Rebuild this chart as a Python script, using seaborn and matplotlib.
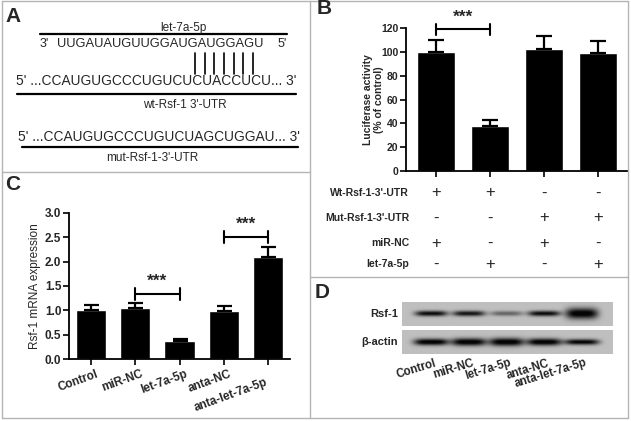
import numpy as np
import pandas as pd
import matplotlib
matplotlib.use("Agg")
import matplotlib.pyplot as plt
import seaborn as sns
from matplotlib.lines import Line2D
from matplotlib.transforms import blended_transform_factory, ScaledTranslation

sns.set_theme(style="ticks")
plt.rcParams['font.family'] = ['Liberation Sans', 'DejaVu Sans']

# ---------------- data ----------------
mirna_name = "let-7a-5p"
mirna_seq = "UUGAUAUGUUGGAUGAUGGAGU"
wt_seq = "5' ...CCAUGUGCCCUGUCUCUACCUCU... 3'"
mut_seq = "5' ...CCAUGUGCCCUGUCUAGCUGGAU... 3'"
wt_name = "wt-Rsf-1 3'-UTR"
mut_name = "mut-Rsf-1-3'-UTR"
n_pairs = 7

b_groups = ["g1", "g2", "g3", "g4"]
b_values = [100, 38, 102, 99]
b_err = [10, 5, 11, 10]
b_ticks = [0, 20, 40, 60, 80, 100, 120]
b_rows = ["Wt-Rsf-1-3'-UTR", "Mut-Rsf-1-3'-UTR", "miR-NC", "let-7a-5p"]
b_signs = [["+", "+", "-", "-"],
           ["-", "-", "+", "+"],
           ["+", "-", "+", "-"],
           ["-", "+", "-", "+"]]

c_groups = ["Control", "miR-NC", "let-7a-5p", "anta-NC", "anta-let-7a-5p"]
c_values = [1.00, 1.05, 0.38, 0.98, 2.09]
c_err = [0.10, 0.11, 0.04, 0.10, 0.22]
c_ticks = [0.0, 0.5, 1.0, 1.5, 2.0, 2.5, 3.0]

d_lanes = c_groups
d_rsf_int = [0.9, 0.85, 0.45, 0.9, 1.0]
d_rsf_thick = [0.11, 0.11, 0.10, 0.11, 0.22]
d_act_int = [1.0, 1.0, 1.0, 1.0, 0.95]
d_act_thick = [0.14, 0.16, 0.17, 0.15, 0.12]

# ---------------- figure ----------------
W, H = 631, 421
fig = plt.figure(figsize=(W / 100, H / 100), dpi=100)
fig.patch.set_facecolor("white")


def fx(x):
    return x / W


def fy(y):
    return 1 - y / H


def axes_px(l, t, r, b):
    return fig.add_axes([l / W, 1 - b / H, (r - l) / W, (b - t) / H])


def hline(x0, x1, y, lw=1.5, color="black"):
    fig.add_artist(Line2D([fx(x0), fx(x1)], [fy(y), fy(y)], color=color, lw=lw))


def vline(x, y0, y1, lw=1.5, color="black"):
    fig.add_artist(Line2D([fx(x), fx(x)], [fy(y0), fy(y1)], color=color, lw=lw))


# panel borders
bc = "#b4b4b4"
hline(1.5, 627.5, 1, lw=1, color=bc)
hline(1.5, 627.5, 418, lw=1, color=bc)
vline(1.5, 1, 418, lw=1, color=bc)
vline(627.5, 1, 418, lw=1, color=bc)
vline(309.5, 1, 418, lw=1, color=bc)
hline(1.5, 309.5, 171.5, lw=1, color=bc)
hline(309.5, 627.5, 277, lw=1, color=bc)

# panel letters
for lab, x, y in [("A", 5, 16), ("B", 317, 9), ("C", 5, 185), ("D", 315, 292)]:
    fig.text(fx(x), fy(y), lab, fontsize=15, fontweight="bold", ha="left", va="center")

# ---------------- panel A ----------------
seqfs = 9
fig.text(fx(183), fy(28), mirna_name, fontsize=8.5, ha="center", va="center")
hline(40, 287, 34, lw=1.6)
fig.text(fx(40), fy(44), "3'", fontsize=seqfs, ha="left", va="center")
fig.text(fx(160), fy(44), mirna_seq, fontsize=seqfs + 0.3, ha="center", va="center")
fig.text(fx(287), fy(44), "5'", fontsize=seqfs, ha="right", va="center")
for xp in np.linspace(195, 253, n_pairs):
    vline(xp, 53, 74, lw=1.2)
fig.text(fx(156.5), fy(81), wt_seq, fontsize=9.9, ha="center", va="center")
hline(17, 296, 94, lw=1.6)
fig.text(fx(185), fy(105), wt_name, fontsize=8.5, ha="center", va="center")
fig.text(fx(159), fy(137), mut_seq, fontsize=9.9, ha="center", va="center")
hline(22, 298, 147, lw=1.6)
fig.text(fx(152), fy(158), mut_name, fontsize=8.5, ha="center", va="center")

# ---------------- panel B ----------------
axb = axes_px(406, 28, 628, 171)
df_b = pd.DataFrame({"group": b_groups, "value": b_values})
sns.barplot(data=df_b, x="group", y="value", color="black", saturation=1,
            width=0.7, errorbar=None, ax=axb)
axb.errorbar(range(len(b_values)), b_values, yerr=[np.zeros(len(b_err)), b_err],
             fmt="none", ecolor="black", elinewidth=1.6, capsize=5.8, capthick=1.6, zorder=5)
axb.set_xlim(-0.55, 3.55)
axb.set_ylim(0, 120)
axb.set_yticks(b_ticks)
axb.set_yticklabels([str(t) for t in b_ticks], fontsize=7.5, fontweight="bold")
axb.set_xticks(range(len(b_groups)))
axb.set_xticklabels([])
axb.set_xlabel("")
axb.set_ylabel("Luciferase activity\n(% of control)", fontsize=7.5, fontweight="bold",
               linespacing=1.05)
axb.yaxis.set_label_coords(-0.1, 0.5)
sns.despine(ax=axb)
for sp in ["left", "bottom"]:
    axb.spines[sp].set_linewidth(1.3)
    axb.spines[sp].set_color("black")
axb.tick_params(axis="both", length=4, width=1.2, pad=1.5, color="black")
axb.set_facecolor("none")
# significance
axb.plot([0, 1], [119, 119], color="black", lw=1.5, clip_on=False)
for xb in [0, 1]:
    axb.plot([xb, xb], [114.5, 123.5], color="black", lw=1.5, clip_on=False)
axb.text(0.5, 123, "***", ha="center", va="bottom", fontsize=12.5, fontweight="bold")
# condition table
tb = blended_transform_factory(axb.transData, fig.transFigure)
row_y = [193, 218, 243, 264]
for r, (lab, yy) in enumerate(zip(b_rows, row_y)):
    fig.text(fx(409), fy(yy), lab, fontsize=7.5, fontweight="bold", ha="right", va="center")
    for i, s in enumerate(b_signs[r]):
        axb.text(i, fy(yy), s, transform=tb, fontsize=12, ha="center", va="center")

# ---------------- panel C ----------------
axc = axes_px(69, 213, 290, 359)
df_c = pd.DataFrame({"group": c_groups, "value": c_values})
sns.barplot(data=df_c, x="group", y="value", color="black", saturation=1,
            width=0.68, errorbar=None, ax=axc)
axc.errorbar(range(len(c_values)), c_values, yerr=[np.zeros(len(c_err)), c_err],
             fmt="none", ecolor="black", elinewidth=1.6, capsize=5.4, capthick=1.6, zorder=5)
axc.set_xlim(-0.5, 4.5)
axc.set_ylim(0, 3)
axc.set_yticks(c_ticks)
axc.set_yticklabels([f"{t:.1f}" for t in c_ticks], fontsize=8.5, fontweight="bold")
axc.set_xticks(range(len(c_groups)))
axc.set_xticklabels([])
tc = blended_transform_factory(axc.transData, axc.transAxes)
for k, lab in enumerate(c_groups):
    dx, dy = (5, -9) if k < len(c_groups) - 1 else (-3, -17)
    axc.text(k, 0, lab, rotation=20, ha="right", va="top", rotation_mode="anchor",
             fontsize=8.5, fontweight="bold", clip_on=False,
             transform=tc + ScaledTranslation(dx / 100, dy / 100, fig.dpi_scale_trans))
axc.set_xlabel("")
axc.set_ylabel("Rsf-1 mRNA expression", fontsize=8.5)
axc.yaxis.set_label_coords(-0.125, 0.5)
sns.despine(ax=axc)
for sp in ["left", "bottom"]:
    axc.spines[sp].set_linewidth(1.3)
    axc.spines[sp].set_color("black")
axc.tick_params(axis="both", length=4, width=1.2, pad=1.5, color="black")
axc.set_facecolor("none")
for (a, b_, yb) in [(1, 2, 1.34), (3, 4, 2.5)]:
    axc.plot([a, b_], [yb, yb], color="black", lw=1.5, clip_on=False)
    for xb in [a, b_]:
        axc.plot([xb, xb], [yb - 0.12, yb + 0.12], color="black", lw=1.5, clip_on=False)
    axc.text((a + b_) / 2, yb + 0.11, "***", ha="center", va="bottom", fontsize=12.5,
             fontweight="bold")

# ---------------- panel D ----------------
xl0, xl1 = -0.77, 4.82


def blot(ax, intens, thick, halfw=0.43, bg=0.75):
    xs = np.linspace(xl0, xl1, 420)
    ys = np.linspace(0, 1, 60)
    X, Y = np.meshgrid(xs, ys)
    dark = np.zeros_like(X)
    for i, (a, t) in enumerate(zip(intens, thick)):
        dark += a * np.exp(-((X - i) / halfw) ** 4) * np.exp(-((Y - 0.5) / t) ** 2)
    img = bg * (1 - np.clip(dark * 1.1, 0, 1) * 0.97)
    ax.imshow(img, cmap="gray", vmin=0, vmax=1, extent=(xl0, xl1, 0, 1),
              aspect="auto", origin="lower", interpolation="bilinear")
    ax.set_xlim(xl0, xl1)
    ax.set_ylim(0, 1)
    ax.axis("off")


axd1 = axes_px(402, 302, 613, 326)
blot(axd1, d_rsf_int, d_rsf_thick)
axd2 = axes_px(402, 330, 613, 354)
blot(axd2, d_act_int, d_act_thick, halfw=0.46)
fig.text(fx(398), fy(314), "Rsf-1", fontsize=8, fontweight="bold", ha="right", va="center")
fig.text(fx(398), fy(342), "β-actin", fontsize=8, fontweight="bold", ha="right", va="center")
td = blended_transform_factory(axd2.transData, fig.transFigure)
for i, lab in enumerate(d_lanes):
    axd2.text(i + 0.08, fy(357), lab, transform=td, rotation=17, ha="right", va="top",
              rotation_mode="anchor", fontsize=8.3, fontweight="bold", clip_on=False)

fig.savefig("out.png", dpi=100, facecolor="white")
